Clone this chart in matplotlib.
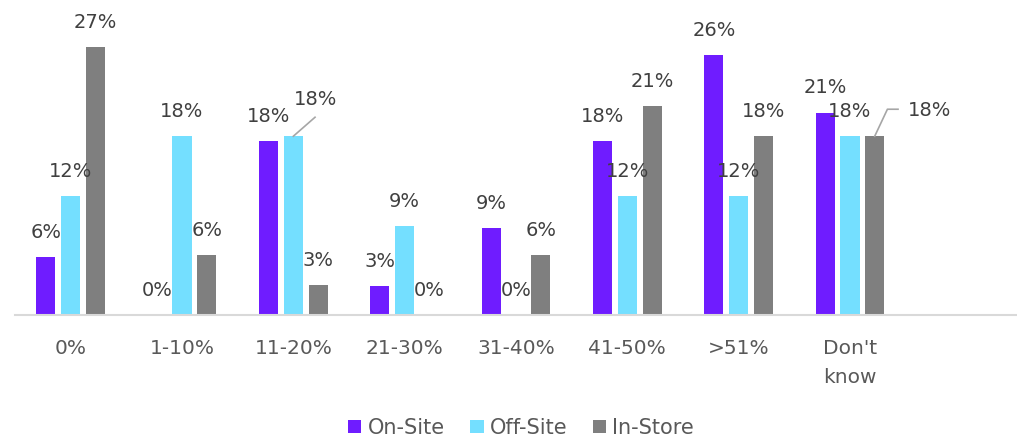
import matplotlib
matplotlib.use("Agg")
import matplotlib.pyplot as plt
import numpy as np

plt.rcParams["font.family"] = ["DejaVu Sans"]

# survey shares (%), labels are these values rounded
categories = ["0%", "1-10%", "11-20%", "21-30%", "31-40%", "41-50%", ">51%", "Don't\nknow", ""]
series = ["On-Site", "Off-Site", "In-Store"]
on_site = [5.88, 0.0, 17.65, 2.94, 8.82, 17.65, 26.47, 20.59]
off_site = [12.12, 18.18, 18.18, 9.09, 0.0, 12.12, 12.12, 18.18]
in_store = [27.27, 6.06, 3.03, 0.0, 6.06, 21.21, 18.18, 18.18]
colors = ["#6F1CFF", "#74DFFF", "#7F7F7F"]

fig = plt.figure(figsize=(10.17, 4.38), dpi=100)
ax = fig.add_axes([15 / 1017, (438 - 315) / 438, 1002 / 1017, 295 / 438])

x = np.arange(len(on_site))
width = 0.171
step = 0.222
label_color = "#404040"

# (series index, category index) -> leader path offsets in px, label centre offset in px
moved = {
    (1, 2): ([(0, 0), (21.7, 19)], (22, 36.3)),
    (2, 7): ([(0, 0), (12.7, 27), (23.3, 27)], (55, 25.3)),
}

bar_sets = []
for i, (vals, name) in enumerate(zip([on_site, off_site, in_store], series)):
    pos = x + (i - 1) * step
    ax.bar(pos, vals, width, color=colors[i], label=name, zorder=2)
    bar_sets.append((pos, vals))

ax.set_xlim(-0.5, len(categories) - 0.5)
ax.set_ylim(0, 30)
ax.set_xticks(np.arange(len(categories)))
ax.set_xticklabels(categories, fontsize=14.5, color="#595959", linespacing=1.7, va="top")
ax.tick_params(axis="x", length=0, pad=17)
ax.set_yticks([])
for side in ["top", "right", "left"]:
    ax.spines[side].set_visible(False)
ax.spines["bottom"].set_color("#D9D9D9")
ax.spines["bottom"].set_linewidth(1.5)

for i, (pos, vals) in enumerate(bar_sets):
    for j, (px, v) in enumerate(zip(pos, vals)):
        text = f"{v:.0f}%"
        if (i, j) in moved:
            path, (dx, dy) = moved[(i, j)]
            anchor = ax.transData.transform((px, v))
            pts = ax.transData.inverted().transform(anchor + np.array(path))
            ax.plot(pts[:, 0], pts[:, 1], color="#A6A6A6", lw=1.2, zorder=3,
                    clip_on=False)
        else:
            dx, dy = 0, 24.6
        ax.annotate(text, (px, v), xytext=(dx, dy), textcoords="offset pixels",
                    ha="center", va="center", fontsize=14, color=label_color,
                    annotation_clip=False)

fig.legend(loc="center", bbox_to_anchor=(521 / 1017, 1 - 428 / 438), ncol=3,
           frameon=False, fontsize=15, handlelength=0.66, handleheight=0.63,
           handletextpad=0.3, columnspacing=1.2, labelcolor="#595959")

fig.savefig("out.png", dpi=100)
